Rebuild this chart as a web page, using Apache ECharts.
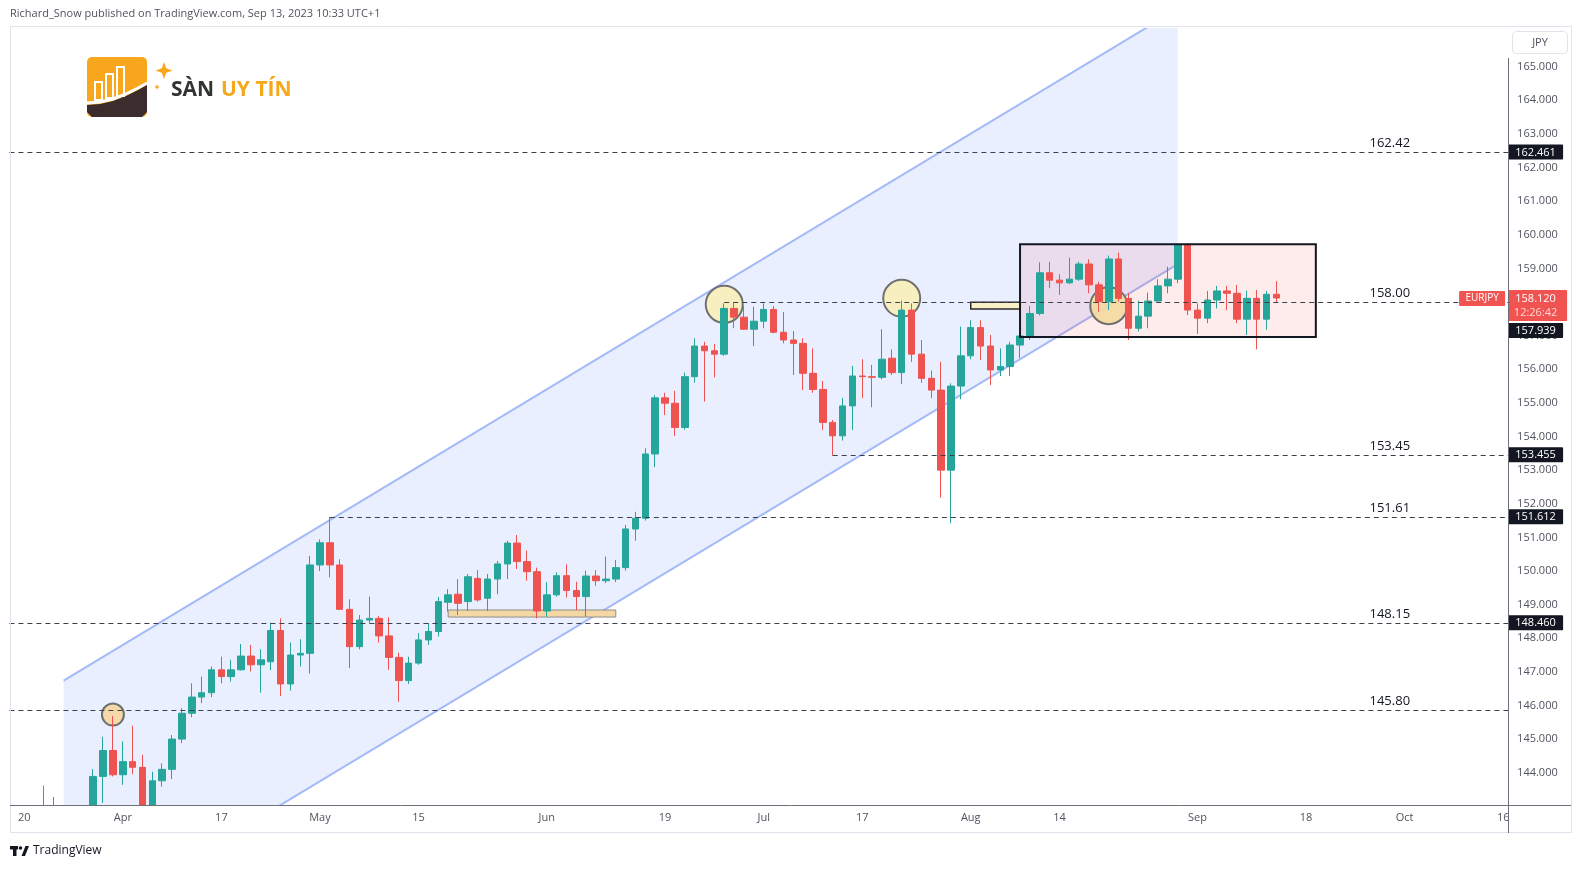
<!DOCTYPE html>
<html><head><meta charset="utf-8">
<script src="https://cdn.jsdelivr.net/npm/echarts@6/dist/echarts.min.js"></script>
<style>html,body{margin:0;padding:0;background:#fff;}#c{width:1582px;height:869px;}</style>
</head><body><div id="c"></div>
<script>
// ---------------- DATA ----------------
const FONT = '"Open Sans", "Noto Sans", sans-serif';
const firstCategory = '2023-03-17';
const lastCategory = '2023-10-16';
const candleStart = '2023-03-20';
const opens = [142.30,142.60,142.95,142.30,141.80,140.60,141.90,142.80,143.89,144.66,
143.94,144.33,144.16,142.95,143.76,144.10,145.00,145.77,146.25,146.38,
147.06,146.86,147.06,147.47,147.21,147.30,148.23,146.64,147.50,147.55,
150.18,150.84,150.18,148.86,147.75,148.54,148.59,148.07,147.43,146.74,
147.26,147.95,148.20,149.07,149.31,149.09,149.78,149.19,149.76,150.21,
150.83,150.28,149.98,148.81,149.29,149.86,149.42,149.24,149.85,149.71,
149.76,150.10,151.25,151.57,153.48,155.15,154.99,154.27,155.78,156.69,
156.55,156.45,157.81,157.55,157.19,157.43,157.78,157.10,156.87,156.77,
155.88,155.40,154.42,154.02,154.91,155.80,155.78,155.76,156.33,155.90,
157.76,156.45,155.73,155.38,153.00,155.50,156.40,157.24,156.69,155.98,
156.08,156.72,156.99,157.66,158.87,158.65,158.57,158.68,159.13,158.51,
158.01,159.28,158.11,157.22,157.58,158.03,158.48,158.68,159.70,157.76,
157.52,158.06,158.33,158.26,157.49,158.11,157.49,158.23];
const closes = [142.60,142.95,142.30,141.80,140.60,141.90,142.80,143.89,144.66,143.94,
144.33,144.16,142.95,143.76,144.10,145.00,145.77,146.25,146.38,147.06,
146.86,147.06,147.47,147.21,147.36,148.23,146.64,147.50,147.55,150.18,
150.84,150.18,148.86,147.75,148.54,148.59,148.07,147.43,146.74,147.26,
147.95,148.20,149.09,149.29,149.04,149.83,149.14,149.76,150.21,150.83,
150.28,149.98,148.81,149.29,149.86,149.42,149.24,149.85,149.71,149.76,
150.10,151.25,151.57,153.48,155.15,154.99,154.27,155.78,156.69,156.55,
156.45,157.81,157.55,157.19,157.43,157.78,157.10,156.87,156.77,155.88,
155.40,154.42,154.02,154.91,155.80,155.78,155.76,156.30,155.90,157.76,
156.45,155.73,155.38,153.00,155.50,156.40,157.24,156.69,155.98,156.08,
156.72,156.99,157.66,158.87,158.65,158.57,158.68,159.13,158.51,158.01,
159.28,158.11,157.22,157.58,158.03,158.48,158.68,159.70,157.76,157.52,
158.06,158.33,158.26,157.49,158.11,157.49,158.23,158.12];
const lows = [141.50,142.20,142.00,141.50,139.00,140.50,141.70,142.60,143.10,143.89,
143.64,143.96,142.80,142.70,143.59,143.81,144.88,145.65,146.07,146.25,
146.66,146.71,147.04,147.01,146.38,147.05,146.28,146.44,147.16,146.95,
150.00,149.81,148.84,147.11,147.67,148.45,147.87,147.06,146.11,146.64,
147.21,147.80,148.05,148.79,148.69,148.81,149.09,148.81,149.31,149.76,
150.06,149.71,148.59,148.64,149.24,149.21,148.84,148.64,149.56,149.64,
149.67,150.01,150.90,151.50,153.09,154.64,154.02,154.20,155.60,155.04,
155.76,156.40,157.22,157.17,156.69,157.22,157.07,156.77,155.83,155.38,
155.30,154.19,153.43,153.88,154.19,155.14,154.87,155.70,155.83,155.56,
156.22,155.60,155.14,152.18,151.42,155.11,156.30,156.28,155.53,155.80,
155.80,156.33,156.87,157.60,158.41,158.21,158.54,158.63,158.26,157.71,
157.76,158.01,156.87,157.12,157.22,158.01,158.26,158.56,157.61,157.05,
157.37,157.81,157.76,157.37,157.02,156.59,157.17,157.98];
const highs = [142.90,143.00,143.62,143.28,142.00,142.20,142.95,144.11,145.07,145.69,
144.93,145.40,144.53,144.03,144.28,145.12,145.92,146.66,146.86,147.16,
147.45,147.36,147.83,147.80,147.67,148.46,148.59,147.87,147.97,150.45,
150.94,151.61,150.35,149.16,148.69,149.24,148.66,148.62,147.57,147.45,
148.15,148.45,149.23,149.46,149.76,149.91,150.03,149.91,150.30,150.90,
151.07,150.61,150.10,149.67,149.96,150.20,149.68,150.01,150.03,150.43,
150.33,151.37,151.76,153.65,155.23,155.30,155.36,155.90,156.92,156.82,
156.75,157.96,157.98,157.88,157.86,157.96,157.88,157.70,157.14,156.92,
156.62,155.65,154.49,155.15,156.10,156.30,156.13,157.19,156.59,158.04,
157.96,156.87,155.96,156.22,155.58,157.27,157.46,157.46,157.02,156.62,
156.82,157.12,157.88,159.18,159.20,158.83,159.32,159.20,159.27,158.60,
159.38,159.47,158.26,158.04,158.28,158.68,159.05,159.75,159.75,157.96,
158.33,158.48,158.48,158.51,158.34,158.36,158.33,158.62];

const xTickDates  = ['2023-03-20','2023-04-03','2023-04-17','2023-05-01','2023-05-15','2023-06-01','2023-06-19','2023-07-03','2023-07-17','2023-08-01','2023-08-14','2023-09-01','2023-09-18','2023-10-02','2023-10-16'];
const xTickLabels = ['20','Apr','17','May','15','Jun','19','Jul','17','Aug','14','Sep','18','Oct','16'];
const yTicks = [144,145,146,147,148,149,150,151,152,153,154,155,156,157,158,159,160,161,162,163,164,165];
const yMin = 143.04, yMax = 166.15;

// horizontal levels
const levelPrices = [162.461, 158.00, 153.455, 151.612, 148.46, 145.86];
const levelStarts = [null, '2023-06-27', '2023-07-12', '2023-05-02', null, null];
const levelTexts  = ['162.42', '158.00', '153.45', '151.61', '148.15', '145.80'];
const levelTextDate = '2023-09-28';
const tagPrices = [162.461, 153.455, 151.612, 148.460];
const lastPrice = 158.120, lastTime = '12:26:42', prevPrice = 157.939;

// channel
const chanDates = ['2023-03-24', '2023-08-30'];
const chanUpper = [146.74, 166.72];
const chanLower = [139.15, 159.13];
// rectangles [startDate, endDate, topPrice, bottomPrice]
const boxRange = ['2023-08-08', '2023-09-19', 159.72, 156.96];
const yellowRect = ['2023-08-01', '2023-08-08', 157.99, 157.79];
const orangeRect = ['2023-05-18', '2023-06-12', 148.84, 148.63];
// circles [date, price]
const circleDates  = ['2023-03-31', '2023-06-27', '2023-07-21', '2023-08-21'];
const circlePrices = [145.73, 157.93, 158.11, 157.89];

// ---------------- BUILD ----------------
const cats = [];
(function(){
  let t = Date.parse(firstCategory + 'T00:00:00Z');
  const end = Date.parse(lastCategory + 'T00:00:00Z');
  while (t <= end) {
    const d = new Date(t); const wd = d.getUTCDay();
    if (wd !== 0 && wd !== 6) cats.push(d.toISOString().slice(0,10));
    t += 86400000;
  }
})();
const ci = d => cats.indexOf(d);
const startIdx = ci(candleStart);
const candleData = cats.map((c,k)=>{
  const i = k - startIdx;
  return (i >= 0 && i < opens.length) ? [opens[i], closes[i], lows[i], highs[i]] : '-';
});
const tickMap = new Map(xTickDates.map((d,k)=>[d, xTickLabels[k]]));

const chart = echarts.init(document.getElementById('c'), null, {renderer:'canvas', width:1582, height:869});

const option = {
  animation: false,
  backgroundColor: '#ffffff',
  grid: {left: 9.4, right: 73.9, top: 28, bottom: 64, containLabel: false, outerBoundsMode: 'none'},
  xAxis: {
    type: 'category', data: cats, boundaryGap: true, z: 20,
    axisLine: {show: false}, axisTick: {show: false}, splitLine: {show: false},
    axisLabel: {
      interval: (idx, val) => tickMap.has(val),
      formatter: val => tickMap.get(val) || '',
      color: '#50535e', fontSize: 11, fontFamily: FONT, margin: 7, hideOverlap: false
    }
  },
  yAxis: {
    type: 'value', position: 'right', min: yMin, max: yMax,
    axisLine: {show: false}, axisTick: {show: false}, splitLine: {show: false},
    axisLabel: {customValues: yTicks, formatter: v => v.toFixed(3), color: '#50535e', fontSize: 11, fontFamily: FONT, margin: 9}
  },
  series: [
    { // channel
      type: 'custom', z: 1, clip: true, silent: true, data: [[0, 150]],
      renderItem(params, api) {
        const tl = api.coord([ci(chanDates[0]), chanUpper[0]]), tr = api.coord([ci(chanDates[1]), chanUpper[1]]);
        const bl = api.coord([ci(chanDates[0]), chanLower[0]]), br = api.coord([ci(chanDates[1]), chanLower[1]]);
        return {type: 'group', children: [
          {type: 'polygon', shape: {points: [tl, tr, br, bl]}, style: {fill: 'rgba(41,98,255,0.1)'}},
          {type: 'line', shape: {x1: tl[0], y1: tl[1], x2: tr[0], y2: tr[1]}, style: {stroke: '#a4b9f8', lineWidth: 2}},
          {type: 'line', shape: {x1: bl[0], y1: bl[1], x2: br[0], y2: br[1]}, style: {stroke: '#a4b9f8', lineWidth: 2}}
        ]};
      }
    },
    { // box fill, small rectangles, circles (under candles)
      type: 'custom', z: 2, clip: true, silent: true, data: [[0, 150]],
      renderItem(params, api) {
        const rectOf = (r) => {
          const a = api.coord([ci(r[0]), r[2]]), b = api.coord([ci(r[1]), r[3]]);
          return {x: a[0], y: a[1], width: b[0] - a[0], height: b[1] - a[1]};
        };
        const kids = [];
        kids.push({type: 'rect', shape: rectOf(boxRange), style: {fill: 'rgba(242,54,69,0.1)', stroke: 'none'}});
        kids.push({type: 'rect', shape: rectOf(orangeRect), style: {fill: '#f4d7a2', stroke: '#8e8e8e', lineWidth: 1}});
        kids.push({type: 'rect', shape: rectOf(yellowRect), style: {fill: '#f8f0c6', stroke: '#2a2a2a', lineWidth: 1.5}});
        const radii = [11, 18.5, 18.5, 18.5];
        const fills = ['rgba(246,214,160,0.9)', 'rgba(248,238,184,0.9)', 'rgba(248,238,184,0.9)', 'rgba(244,218,160,0.9)'];
        circleDates.forEach((d, k) => {
          const c = api.coord([ci(d), circlePrices[k]]);
          kids.push({type: 'circle', shape: {cx: c[0], cy: c[1], r: radii[k]}, style: {fill: fills[k], stroke: '#707070', lineWidth: 2}});
        });
        return {type: 'group', children: kids};
      }
    },
    {
      type: 'candlestick', name: 'EURJPY', z: 3, data: candleData, barWidth: 7, silent: true, clip: true,
      itemStyle: {color: '#26a69a', color0: '#ef5350', borderColor: '#26a69a', borderColor0: '#ef5350', borderWidth: 1}
    },
    { // levels, box border and texts
      type: 'custom', z: 4, clip: false, silent: true, data: [[0, 150]],
      renderItem(params, api) {
        const cs = params.coordSys; const bw = api.size([1, 0])[0];
        const kids = [];
        const a = api.coord([ci(boxRange[0]), boxRange[2]]), b = api.coord([ci(boxRange[1]), boxRange[3]]);
        kids.push({type: 'rect', shape: {x: a[0], y: a[1], width: b[0] - a[0], height: b[1] - a[1]}, style: {fill: 'none', stroke: '#131722', lineWidth: 2}});
        levelPrices.forEach((p, k) => {
          const y = Math.round(api.coord([0, p])[1]) + 0.5;
          const s = levelStarts[k];
          const x1 = s ? api.coord([ci(s), p])[0] : cs.x;
          kids.push({type: 'line', shape: {x1: x1, y1: y, x2: cs.x + cs.width, y2: y}, style: {stroke: '#3d404a', lineWidth: 1, lineDash: [5, 4]}});
          const tx = api.coord([ci(levelTextDate), p])[0] + 0.5 * bw;
          kids.push({type: 'text', x: tx, y: y - 3, style: {text: levelTexts[k], align: 'center', verticalAlign: 'bottom', font: '13px ' + FONT, fill: '#131722'}});
        });
        return {type: 'group', children: kids};
      }
    },
    { // price tags on the scale
      type: 'custom', z: 30, clip: false, silent: true, data: [[0, 150]],
      renderItem(params, api) {
        const cs = params.coordSys; const ax = cs.x + cs.width;
        const kids = [];
        tagPrices.forEach(p => {
          const y = api.coord([0, p])[1];
          kids.push({type: 'rect', shape: {x: ax, y: y - 7.5, width: 55, height: 15, r: 1}, style: {fill: '#131722'}});
          kids.push({type: 'text', x: ax + 27.5, y: y + 0.5, style: {text: p.toFixed(3), align: 'center', verticalAlign: 'middle', font: '11px ' + FONT, fill: '#ffffff'}});
        });
        const yc = api.coord([0, lastPrice])[1];
        kids.push({type: 'rect', shape: {x: ax, y: yc - 8, width: 59, height: 31, r: 1}, style: {fill: '#f05350'}});
        kids.push({type: 'text', x: ax + 27.5, y: yc + 0.5, style: {text: lastPrice.toFixed(3), align: 'center', verticalAlign: 'middle', font: '11px ' + FONT, fill: '#ffffff'}});
        kids.push({type: 'text', x: ax + 27.5, y: yc + 14.5, style: {text: lastTime, align: 'center', verticalAlign: 'middle', font: '11px ' + FONT, fill: '#ffd9d9'}});
        kids.push({type: 'rect', shape: {x: ax - 49, y: yc - 7, width: 46, height: 15, r: 1}, style: {fill: '#f05350'}});
        kids.push({type: 'text', x: ax - 26, y: yc + 0.5, style: {text: 'EURJPY', align: 'center', verticalAlign: 'middle', font: '10px ' + FONT, fill: '#ffffff'}});
        kids.push({type: 'rect', shape: {x: ax, y: yc + 25, width: 55, height: 15, r: 1}, style: {fill: '#131722'}});
        kids.push({type: 'text', x: ax + 27.5, y: yc + 33, style: {text: prevPrice.toFixed(3), align: 'center', verticalAlign: 'middle', font: '11px ' + FONT, fill: '#ffffff'}});
        return {type: 'group', children: kids};
      }
    }
  ],
  graphic: [
    // white band under the plot so candles do not spill into the time scale
    {type: 'rect', z: 10, silent: true, shape: {x: 0, y: 806, width: 1508, height: 63}, style: {fill: '#ffffff'}},
    {type: 'rect', z: 50, silent: true, shape: {x: 10.5, y: 26.5, width: 1561, height: 806}, style: {fill: 'none', stroke: '#e0e3eb', lineWidth: 1}},
    {type: 'line', z: 50, silent: true, shape: {x1: 10, y1: 805.5, x2: 1571, y2: 805.5}, style: {stroke: '#6d707a', lineWidth: 1}},
    {type: 'line', z: 50, silent: true, shape: {x1: 1508.5, y1: 58, x2: 1508.5, y2: 833}, style: {stroke: '#6d707a', lineWidth: 1}},
    {type: 'rect', z: 50, silent: true, shape: {x: 1512.5, y: 31.5, width: 55, height: 22, r: 4}, style: {fill: '#ffffff', stroke: '#e0e3eb', lineWidth: 1}},
    {type: 'text', z: 51, silent: true, x: 1540, y: 43, style: {text: 'JPY', align: 'center', verticalAlign: 'middle', font: '11px ' + FONT, fill: '#50535e'}},
    {type: 'text', z: 50, silent: true, x: 10, y: 14, style: {text: 'Richard_Snow published on TradingView.com, Sep 13, 2023 10:33 UTC+1', align: 'left', verticalAlign: 'middle', font: '11px ' + FONT, fill: '#50535e'}},
    // logo icon
    {type: 'rect', z: 50, silent: true, shape: {x: 87, y: 57, width: 60, height: 60, r: 5}, style: {fill: '#f8a61c'}},
    {type: 'polygon', z: 51, silent: true, shape: {points: [[87,105],[100,104],[113,101],[126,96],[138,90],[147,85],[147,112],[142,117],[92,117],[87,112]]}, style: {fill: '#3b2d2d'}},
    {type: 'polyline', z: 52, silent: true, shape: {points: [[87,103],[100,102],[113,99],[126,94],[138,88],[147,83]]}, style: {stroke: '#ffffff', lineWidth: 3, fill: 'none'}},
    {type: 'rect', z: 52, silent: true, shape: {x: 95, y: 82, width: 7, height: 18}, style: {fill: 'none', stroke: '#ffffff', lineWidth: 2}},
    {type: 'rect', z: 52, silent: true, shape: {x: 106, y: 74, width: 7, height: 24}, style: {fill: 'none', stroke: '#ffffff', lineWidth: 2}},
    {type: 'rect', z: 52, silent: true, shape: {x: 117, y: 67, width: 7, height: 29}, style: {fill: 'none', stroke: '#ffffff', lineWidth: 2}},
    {type: 'polygon', z: 52, silent: true, shape: {points: [[164,62],[166.2,68.3],[172.5,70.5],[166.2,72.7],[164,79],[161.8,72.7],[155.5,70.5],[161.8,68.3]]}, style: {fill: '#f8a61c'}},
    {type: 'polygon', z: 52, silent: true, shape: {points: [[157,84],[157.8,86.2],[160,87],[157.8,87.8],[157,90],[156.2,87.8],[154,87],[156.2,86.2]]}, style: {fill: '#f8a61c'}},
    {type: 'text', z: 52, silent: true, x: 171, y: 90, style: {text: 'SÀN', align: 'left', verticalAlign: 'middle', font: 'bold 21px ' + FONT, fill: '#333333'}},
    {type: 'text', z: 52, silent: true, x: 221, y: 90, style: {text: 'UY TÍN', align: 'left', verticalAlign: 'middle', font: 'bold 21px ' + FONT, fill: '#f5a81c'}},
    // footer
    {type: 'rect', z: 50, silent: true, shape: {x: 10, y: 846, width: 8, height: 3.5}, style: {fill: '#131722'}},
    {type: 'rect', z: 50, silent: true, shape: {x: 13, y: 846, width: 3.5, height: 10}, style: {fill: '#131722'}},
    {type: 'circle', z: 50, silent: true, shape: {cx: 20.5, cy: 848, r: 1.8}, style: {fill: '#131722'}},
    {type: 'polygon', z: 50, silent: true, shape: {points: [[21.5,856],[25.5,846],[29,846],[25,856]]}, style: {fill: '#131722'}},
    {type: 'text', z: 50, silent: true, x: 33, y: 851, style: {text: 'TradingView', align: 'left', verticalAlign: 'middle', font: '12px ' + FONT, fill: '#131722'}}
  ]
};
chart.setOption(option);
</script></body></html>
